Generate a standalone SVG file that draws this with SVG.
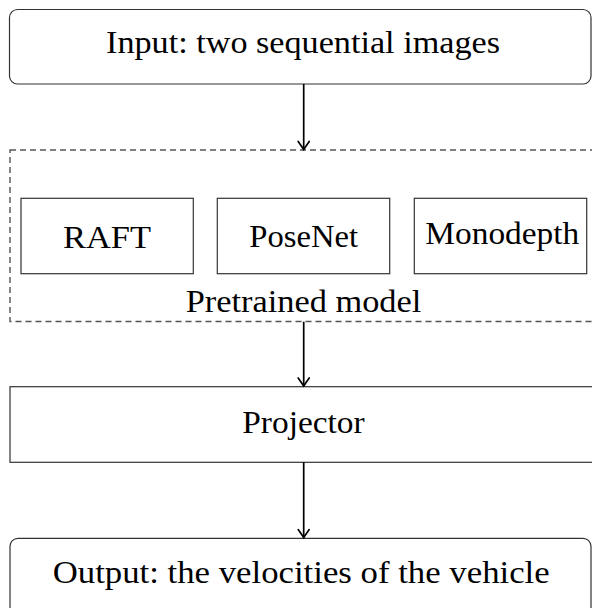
<svg xmlns="http://www.w3.org/2000/svg" width="592" height="608" viewBox="0 0 592 608">
<style>
.box{fill:#fff;stroke:#333;stroke-width:1.2}
.dash{fill:none;stroke:#555;stroke-width:1.4;stroke-dasharray:6 4}
.t{font-family:"Liberation Serif",serif;font-size:31px;fill:#000}
.c{stroke:#000;stroke-width:1.7;fill:none}
</style>
<defs>
<marker id="ah" markerWidth="16" markerHeight="16" refX="11" refY="8" orient="auto" markerUnits="userSpaceOnUse">
<path d="M3,2.5 Q8,6 11,8 Q8,10 3,13.5" fill="none" stroke="#000" stroke-width="1.7" stroke-linecap="round"/>
</marker>
</defs>
<rect width="592" height="608" fill="#fff"/>
<g id="input">
<rect class="box" x="9.5" y="9.5" width="581.5" height="74.5" rx="8"/>
<text class="t" x="106" y="53.3" textLength="394" lengthAdjust="spacingAndGlyphs">Input: two sequential images</text>
</g>
<g id="pretrained">
<rect class="dash" x="10" y="150" width="600" height="171.5"/>
<text class="t" x="185.7" y="311.7" textLength="235.6" lengthAdjust="spacingAndGlyphs">Pretrained model</text>
</g>
<g id="raft">
<rect class="box" x="21" y="198.3" width="172.3" height="75.4"/>
<text class="t" x="63" y="247.7" textLength="88" lengthAdjust="spacingAndGlyphs">RAFT</text>
</g>
<g id="posenet">
<rect class="box" x="217.3" y="198.3" width="172.4" height="75.4"/>
<text class="t" x="249.3" y="246.7" textLength="108.7" lengthAdjust="spacingAndGlyphs">PoseNet</text>
</g>
<g id="monodepth">
<rect class="box" x="414.3" y="198.3" width="172.4" height="75.4"/>
<text class="t" x="425.3" y="244.3" textLength="154" lengthAdjust="spacingAndGlyphs">Monodepth</text>
</g>
<g id="projector">
<rect class="box" x="10" y="386.7" width="600" height="75.6"/>
<text class="t" x="242.3" y="433.3" textLength="122.4" lengthAdjust="spacingAndGlyphs">Projector</text>
</g>
<g id="output">
<rect class="box" x="10" y="538.3" width="581" height="100" rx="8"/>
<text class="t" x="52.7" y="583.3" textLength="497" lengthAdjust="spacingAndGlyphs">Output: the velocities of the vehicle</text>
</g>
<g id="connectors">
<line class="c" x1="303.7" y1="84" x2="303.7" y2="149.5" marker-end="url(#ah)"/>
<line class="c" x1="303.7" y1="321.7" x2="303.7" y2="386" marker-end="url(#ah)"/>
<line class="c" x1="303.7" y1="462.3" x2="303.7" y2="537.6" marker-end="url(#ah)"/>
</g>
</svg>
